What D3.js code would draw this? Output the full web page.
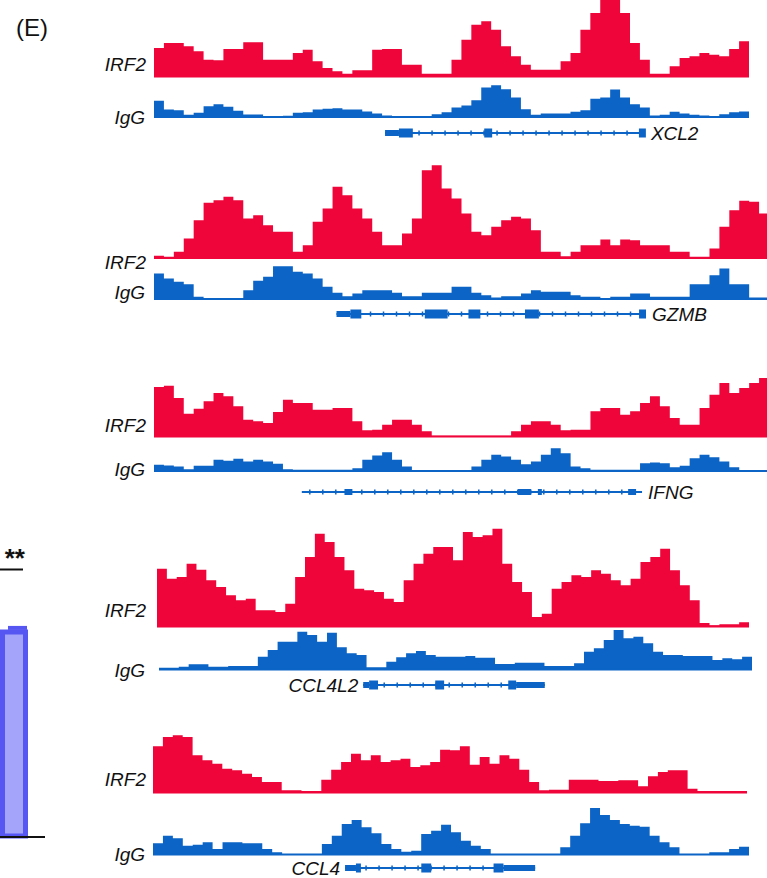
<!DOCTYPE html>
<html>
<head>
<meta charset="utf-8">
<script src="https://cdn.jsdelivr.net/npm/d3@7"></script>
<style>
  body { margin: 0; background: #fff; }
  svg { display: block; font-family: "Liberation Sans", Arial, sans-serif; }
</style>
</head>
<body>
<svg width="767" height="878"></svg>
<script>
// Signal values per bin (arbitrary coverage units)
var xcl2Irf2 = [87,102,102,92,77,52,50,84,84,104,104,52,52,52,72,82,47,27,17,10,20,20,82,84,84,37,37,10,10,10,52,112,157,167,142,92,62,37,22,22,22,47,72,142,192,245,245,192,102,52,10,10,32,57,62,72,67,62,84,107];
var xcl2IgG = [50,24,22,8,14,34,40,32,20,9,9,4,4,5,14,16,24,26,28,24,24,18,12,6,2,2,2,2,10,16,30,36,52,90,97,85,60,25,8,12,12,12,17,22,56,60,84,60,40,30,6,8,17,12,8,6,4,10,16,18];

var gzmbIrf2 = [8,5,20,60,115,167,175,185,175,120,130,100,80,80,20,40,110,150,215,190,150,120,80,40,40,75,120,265,280,210,180,135,80,70,95,115,125,120,85,20,20,7,20,40,40,57,40,57,55,40,40,40,20,20,5,5,30,95,145,173,170,135];
var gzmbIgG = [78,63,53,46,8,3,3,3,3,28,56,68,100,100,83,78,63,38,20,10,18,28,28,28,20,10,10,20,20,20,38,38,20,13,6,10,10,18,28,23,23,23,13,8,8,3,8,8,18,18,8,8,8,8,46,46,73,93,46,46,6,6];

var ifngIrf2 = [150,154,117,70,85,107,132,122,92,52,47,42,75,112,102,102,82,82,87,87,47,20,22,37,52,52,37,17,4,4,4,4,4,4,4,4,17,37,47,47,37,20,22,22,77,87,87,67,77,102,122,92,57,37,37,87,127,162,132,147,162,177];
var ifngIgG = [20,18,15,7,17,17,35,32,38,30,35,30,23,7,5,5,5,5,5,5,10,35,48,58,35,15,3,3,3,3,3,3,15,35,50,45,35,22,30,50,70,55,15,10,5,5,5,5,5,25,27,25,13,17,40,50,43,30,13,3,3,3];

var ccl4l2Irf2 = [175,145,150,190,172,140,120,95,80,85,50,50,45,70,150,210,280,255,210,170,115,110,105,85,75,140,190,220,240,240,200,285,270,275,295,190,135,105,30,40,115,135,155,150,170,160,140,125,145,195,210,235,170,125,80,12,5,8,8,14];
var ccl4l2IgG = [7,7,10,17,17,10,10,12,12,12,40,60,85,85,115,105,85,112,68,50,45,8,8,25,38,50,57,45,40,40,40,42,37,37,18,18,22,22,22,12,12,12,20,55,65,90,120,95,100,80,55,45,45,42,42,42,30,35,32,40];

var ccl4Irf2 = [140,168,173,168,113,98,88,73,68,58,48,33,33,8,8,6,6,40,70,93,118,98,113,93,98,103,78,83,93,130,128,140,85,108,88,113,103,70,33,8,10,10,40,40,40,36,36,38,38,20,50,63,68,68,13,6,6,6,6,6];
var ccl4IgG = [35,58,50,28,31,38,18,38,38,35,35,18,8,3,3,3,3,33,58,93,105,83,65,33,18,10,13,63,73,91,68,43,28,18,3,3,3,3,3,3,3,23,58,95,141,120,105,93,88,85,58,38,23,3,3,3,8,8,18,25];

// Gene models in bin units: span [start, end], exons [start, end, coding?]
var xcl2Span = [23.3, 49.5];
var xcl2Exons = [[23.3,24.7,0],[24.7,26.1,1],[33.3,34.1,1],[48.9,49.6,1]];
var gzmbSpan = [18.4, 49.6];
var gzmbExons = [[18.4,19.8,0],[19.8,20.9,1],[27.3,29.6,1],[31.7,32.9,1],[37.4,38.8,1],[48.9,49.6,1]];
var ifngSpan = [14.9, 49.2];
var ifngExons = [[19.2,20.0,0],[36.7,38.0,0],[38.7,39.1,0],[47.8,48.6,0]];
var ccl4l2Span = [20.9, 39.3];
var ccl4l2Exons = [[20.9,21.5,0],[21.5,22.4,1],[28.2,29.1,1],[35.6,36.4,1],[36.4,39.3,0]];
var ccl4Span = [19.4, 38.6];
var ccl4Exons = [[19.4,20.5,0],[20.5,21.0,1],[27.1,28.1,1],[34.4,35.4,1],[35.4,38.6,0]];

var geneNames = ["XCL2", "GZMB", "IFNG", "CCL4L2", "CCL4"];
var trackNames = ["IRF2", "IgG"];

// Left panel (partially visible bar)
var barMean = 1.0, barErr = 0.02;

var svg = d3.select("svg");
var red = "#f0053a", blue = "#0b64c6";

// signal height scale shared by all tracks
var hScale = d3.scaleLinear().domain([0, 300]).range([0, 100]);

// layout of each locus (pixels)
var tracks = [
  {name: geneNames[0], irf2: xcl2Irf2, igg: xcl2IgG, span: xcl2Span, exons: xcl2Exons,
   rx: [154, 749], bx: [154, 749], redBase: 77, blueBase: 117.5, geneY: 133,
   lab1: 71, lab2: 124, labelRight: true},
  {name: geneNames[1], irf2: gzmbIrf2, igg: gzmbIgG, span: gzmbSpan, exons: gzmbExons,
   rx: [154, 769], bx: [154, 769], redBase: 258.5, blueBase: 299.5, geneY: 314,
   lab1: 269, lab2: 299, labelRight: true},
  {name: geneNames[2], irf2: ifngIrf2, igg: ifngIgG, span: ifngSpan, exons: ifngExons,
   rx: [154, 769], bx: [154, 769], redBase: 437, blueBase: 471.5, geneY: 492,
   lab1: 432, lab2: 476, labelRight: true, thin: true},
  {name: geneNames[3], irf2: ccl4l2Irf2, igg: ccl4l2IgG, span: ccl4l2Span, exons: ccl4l2Exons,
   rx: [157, 749], bx: [159, 752], redBase: 627, blueBase: 670, geneY: 685,
   lab1: 617, lab2: 677, labelRight: false},
  {name: geneNames[4], irf2: ccl4Irf2, igg: ccl4IgG, span: ccl4Span, exons: ccl4Exons,
   rx: [153, 747], bx: [153, 749], redBase: 793, blueBase: 855, geneY: 868,
   lab1: 786, lab2: 861, labelRight: false}
];

function drawSignal(vals, range, base, color) {
  var x = d3.scaleLinear().domain([0, vals.length]).range(range);
  var pts = vals.map(function(v, i) { return [i, v]; });
  pts.push([vals.length, vals[vals.length - 1]]);
  var area = d3.area()
      .curve(d3.curveStepAfter)
      .x(function(d) { return x(d[0]); })
      .y0(base)
      .y1(function(d) { return base - hScale(d[1]); });
  svg.append("path").datum(pts)
      .attr("d", area)
      .attr("fill", color);
  svg.append("line")
      .attr("x1", range[0]).attr("x2", range[1])
      .attr("y1", base - 0.5).attr("y2", base - 0.5)
      .attr("stroke", color).attr("stroke-width", 2);
}

tracks.forEach(function(t) {
  drawSignal(t.irf2, t.rx, t.redBase, red);
  drawSignal(t.igg, t.bx, t.blueBase, blue);

  // track labels
  svg.append("text")
      .attr("x", 146).attr("y", t.lab1)
      .attr("text-anchor", "end")
      .attr("font-size", 19).attr("font-style", "italic").attr("fill", "#111")
      .text(trackNames[0]);
  svg.append("text")
      .attr("x", 145).attr("y", t.lab2)
      .attr("text-anchor", "end")
      .attr("font-size", 19).attr("font-style", "italic").attr("fill", "#111")
      .text(trackNames[1]);

  // gene model uses the same genomic scale as the IRF2 track
  var x = d3.scaleLinear().domain([0, t.irf2.length]).range(t.rx);
  var g = svg.append("g").attr("transform", "translate(0," + t.geneY + ")");
  var x0 = x(t.span[0]), x1 = x(t.span[1]);

  g.append("line")
      .attr("x1", x0).attr("x2", x1)
      .attr("stroke", blue).attr("stroke-width", 2.2);

  // little strand ticks along the introns
  d3.range(x0 + 8, x1 - 4, 13).forEach(function(px) {
    g.append("line")
        .attr("x1", px).attr("x2", px)
        .attr("y1", -2.5).attr("y2", 2.5)
        .attr("stroke", blue).attr("stroke-width", 1.5);
  });

  g.selectAll("rect.exon")
    .data(t.exons)
    .enter().append("rect")
      .attr("class", "exon")
      .attr("x", function(d) { return x(d[0]); })
      .attr("width", function(d) { return Math.max(2, x(d[1]) - x(d[0])); })
      .attr("y", function(d) { var hh = t.thin ? 6 : (d[2] ? 9 : 6); return -hh / 2; })
      .attr("height", function(d) { return t.thin ? 6 : (d[2] ? 9 : 6); })
      .attr("fill", blue);

  svg.append("text")
      .attr("x", t.labelRight ? x1 + 6 : x0 - 5)
      .attr("y", t.geneY + 6.5)
      .attr("text-anchor", t.labelRight ? "start" : "end")
      .attr("font-size", 19).attr("font-style", "italic").attr("fill", "#111")
      .text(t.name);
});

// panel letter
svg.append("text")
    .attr("x", 16).attr("y", 36)
    .attr("font-size", 24).attr("fill", "#111")
    .text("(E)");

// partially visible bar from the neighbouring panel
var yBar = d3.scaleLinear().domain([0, barMean]).range([836, 632]);
svg.append("rect")
    .attr("x", 2.5).attr("width", 23)
    .attr("y", yBar(barMean)).attr("height", yBar(0) - yBar(barMean))
    .attr("fill", "#a4a4fb").attr("stroke", "#5656f2").attr("stroke-width", 5);
svg.append("line")
    .attr("x1", 8).attr("x2", 27)
    .attr("y1", yBar(barMean + barErr)).attr("y2", yBar(barMean + barErr))
    .attr("stroke", "#5656f2").attr("stroke-width", 4);
svg.append("line")
    .attr("x1", 0).attr("x2", 45)
    .attr("y1", 837).attr("y2", 837)
    .attr("stroke", "#111").attr("stroke-width", 2);
svg.append("text")
    .attr("x", 25).attr("y", 567)
    .attr("text-anchor", "end")
    .attr("font-size", 26).attr("font-weight", "bold").attr("fill", "#111")
    .text("**");
svg.append("line")
    .attr("x1", 0).attr("x2", 23)
    .attr("y1", 569.5).attr("y2", 569.5)
    .attr("stroke", "#111").attr("stroke-width", 2);
</script>
</body>
</html>
